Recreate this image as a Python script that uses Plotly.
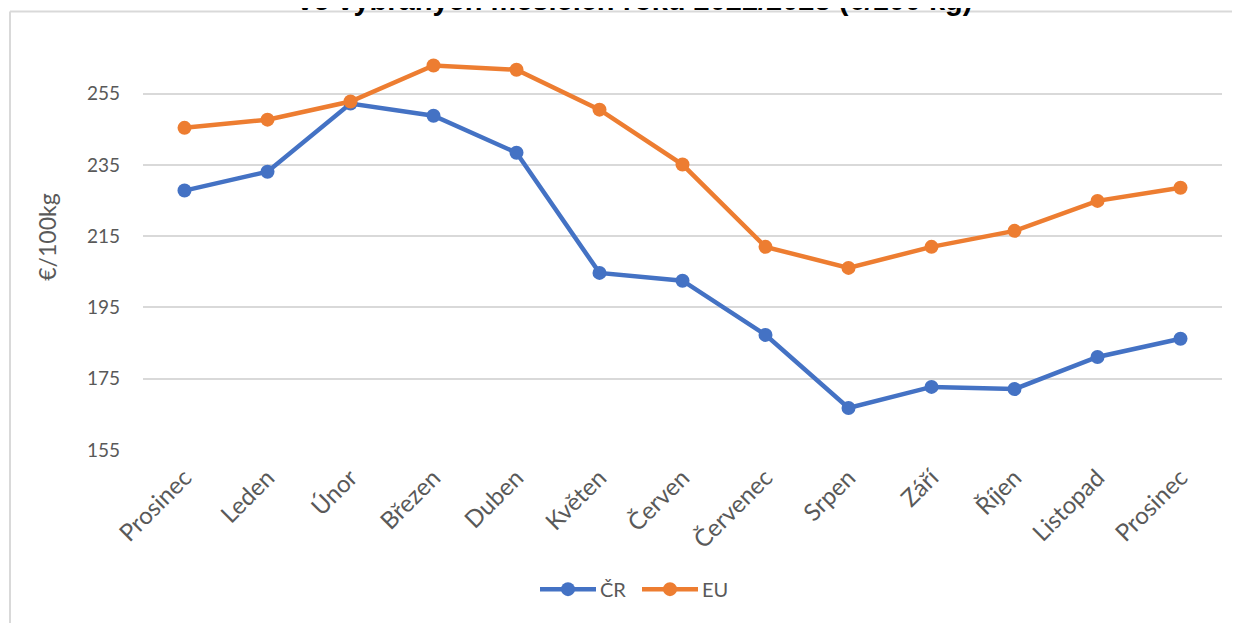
import plotly.graph_objects as go

categories = ["Prosinec", "Leden", "Únor", "Březen", "Duben", "Květen", "Červen",
              "Červenec", "Srpen", "Září", "Říjen", "Listopad", "Prosinec"]
cr_values = [227.8, 233.1, 252.2, 248.8, 238.4, 204.7, 202.5, 187.3, 166.8, 172.7, 172.1, 181.1, 186.2]
eu_values = [245.4, 247.7, 252.8, 262.9, 261.7, 250.5, 235.1, 212.0, 206.1, 212.0, 216.5, 224.9, 228.6]
y_ticks = [155, 175, 195, 215, 235, 255]
series_names = ["ČR", "EU"]
series_colors = ["#4472C4", "#ED7D31"]
title_text = "ve vybraných měsících roku 2022/2023 (€/100 kg)"
y_title = "€/100kg"

OFF = 8  # page body margin
W, H = 1240 - OFF, 623 - OFF
L, R, T, B = 143 - OFF, 1222 - OFF, 58.4 - OFF, 450 - OFF
pw, ph = R - L, B - T

def px(x):  # page pixel -> paper
    return (x - OFF - L) / pw

def py(y):
    return (B - (y - OFF)) / ph

x_idx = list(range(len(categories)))
font_family = "Lato, 'Open Sans', sans-serif"
grey = "#595959"

fig = go.Figure()
for name, vals, col in zip(series_names, [cr_values, eu_values], series_colors):
    fig.add_trace(go.Scatter(x=x_idx, y=vals, name=name, mode="lines+markers",
                             line=dict(color=col, width=4.5),
                             marker=dict(size=14, color=col), showlegend=False))

fig.update_layout(
    width=W, height=H,
    margin=dict(l=L, r=W - R, t=T, b=H - B, pad=0),
    paper_bgcolor="white", plot_bgcolor="white",
    font=dict(family=font_family, color=grey, size=18),
    xaxis=dict(range=[-0.5, len(categories) - 0.5], tickmode="array",
               tickvals=x_idx, ticktext=categories, tickangle=-45,
               showgrid=False, zeroline=False, showline=False, ticks="",
               ticklabelstandoff=8,
               tickfont=dict(size=24, color=grey)),
    yaxis=dict(range=[155, 265], tickmode="array", tickvals=y_ticks,
               showgrid=True, gridcolor="#D9D9D9", gridwidth=2,
               zeroline=False, showline=False, ticks="", ticklabelstandoff=22,
               tickfont=dict(size=19, color=grey)),
    showlegend=False,
)

# custom legend (long line samples as in the original)
legend_starts = [540, 642]
for name, col, x0 in zip(series_names, series_colors, legend_starts):
    fig.add_shape(type="line", xref="paper", yref="paper", x0=px(x0), x1=px(x0 + 56),
                  y0=py(589), y1=py(589), line=dict(color=col, width=4.5))
    fig.add_shape(type="circle", xref="paper", yref="paper", xsizemode="pixel", ysizemode="pixel",
                  xanchor=px(x0 + 28), yanchor=py(589), x0=-7, x1=7, y0=-7, y1=7,
                  fillcolor=col, line=dict(color=col, width=0))
    fig.add_annotation(text=name, xref="paper", yref="paper", x=px(x0 + 58), y=py(589),
                       xanchor="left", yanchor="middle", showarrow=False,
                       font=dict(size=20, color=grey, family=font_family))

fig.add_annotation(text=y_title, xref="paper", yref="paper", x=px(47), y=py(238),
                   xanchor="center", yanchor="middle", textangle=-90, showarrow=False,
                   font=dict(size=23, color=grey, family=font_family))

fig.add_annotation(text="<b>" + title_text + "</b>", xref="paper", yref="paper",
                   x=px(634), y=py(18.5), xanchor="center", yanchor="bottom", showarrow=False,
                   font=dict(size=29, color="black", family="Liberation Sans, Arial, sans-serif"))

# chart-area border
fig.add_shape(type="line", xref="paper", yref="paper", x0=px(10), x1=px(10), y0=py(640), y1=py(12),
              line=dict(color="#D9D9D9", width=2))
fig.add_shape(type="line", xref="paper", yref="paper", x0=px(10), x1=px(1260), y0=py(12), y1=py(12),
              line=dict(color="#D9D9D9", width=2))

fig.write_html("out.html")
